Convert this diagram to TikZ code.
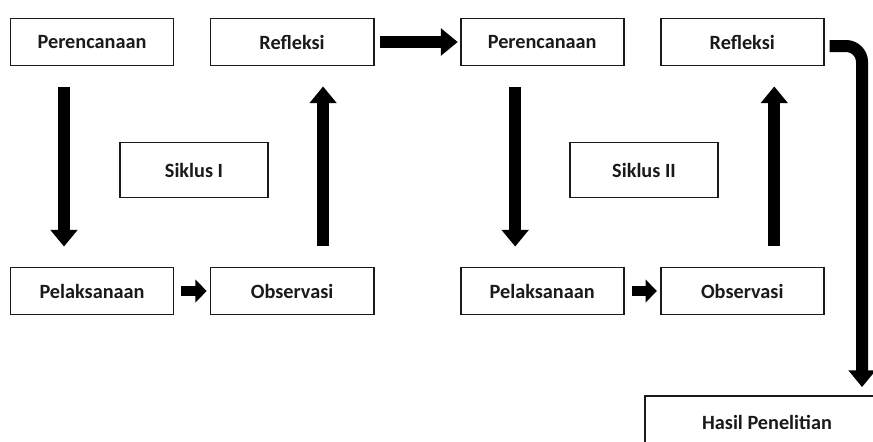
\documentclass[tikz,border=0pt]{standalone}
\usepackage{fontspec}
\setmainfont{Carlito}
\usepackage{tikz}
\usetikzlibrary{arrows.meta,positioning}
\definecolor{ink}{HTML}{1A1A1A}

\begin{document}
\begin{tikzpicture}[
    x=0.025cm, y=-0.025cm,
    box/.style={draw=ink, line width=1.3pt, fill=white,
                minimum width=4.075cm, minimum height=1.175cm, align=center,
                font=\fontsize{14.4}{17}\selectfont\bfseries, text=ink},
    bigarrow/.style={-{Triangle[length=0.42cm,width=0.66cm]}, line width=0.3cm, draw=black},
    smallarrow/.style={-{Triangle[length=0.28cm,width=0.56cm]}, line width=0.25cm, draw=black}
  ]
  \useasboundingbox (0,0) rectangle (873,441);
  \clip (0,0) rectangle (873,441);

  %%%%%%%%%%%%% Siklus I %%%%%%%%%%%%%
  \node[box] (per1) at (92,42) {Perencanaan};
  \node[box, right=0.88cm of per1] (ref1) {Refleksi};
  \node[box] (pel1) at (92,291) {Pelaksanaan};
  \node[box, right=0.88cm of pel1] (obs1) {Observasi};
  \node[box, minimum width=3.7cm, minimum height=1.375cm] (sik1) at (194,170) {Siklus I};

  %%%%%%%%%%%%% Siklus II %%%%%%%%%%%%%
  \node[box, right=2.13cm of ref1] (per2) {Perencanaan};
  \node[box, right=0.88cm of per2] (ref2) {Refleksi};
  \node[box, right=2.13cm of obs1] (pel2) {Pelaksanaan};
  \node[box, right=0.88cm of pel2] (obs2) {Observasi};
  \node[box, minimum width=3.7cm, minimum height=1.375cm] (sik2) at (644,170) {Siklus II};

  %%%%%%%%%%%%% Hasil %%%%%%%%%%%%%
  \node[box, minimum width=6.1cm, minimum height=1.3cm] (hasil) at (767,422) {Hasil Penelitian};

  %%%%%%%%%%%%% Arrows: Siklus I %%%%%%%%%%%%%
  \draw[bigarrow, shorten <=0.525cm, shorten >=0.5cm]
    ([xshift=-0.7cm]per1.south) -- ([xshift=-0.7cm]pel1.north);
  \draw[smallarrow, shorten <=0.175cm, shorten >=0.075cm] (pel1.east) -- (obs1.west);
  \draw[bigarrow, shorten <=0.525cm, shorten >=0.5cm]
    ([xshift=0.775cm]obs1.north) -- ([xshift=0.775cm]ref1.south);

  %%%%%%%%%%%%% Siklus I -> Siklus II %%%%%%%%%%%%%
  \draw[bigarrow, line width=0.28cm, shorten <=0.125cm, shorten >=0.05cm] (ref1.east) -- (per2.west);

  %%%%%%%%%%%%% Arrows: Siklus II %%%%%%%%%%%%%
  \draw[bigarrow, shorten <=0.525cm, shorten >=0.5cm]
    ([xshift=-0.675cm]per2.south) -- ([xshift=-0.675cm]pel2.north);
  \draw[smallarrow, shorten <=0.175cm, shorten >=0.075cm] (pel2.east) -- (obs2.west);
  \draw[bigarrow, shorten <=0.525cm, shorten >=0.5cm]
    ([xshift=0.8cm]obs2.north) -- ([xshift=0.8cm]ref2.south);

  %%%%%%%%%%%%% Siklus II -> Hasil %%%%%%%%%%%%%
  \draw[bigarrow, rounded corners=0.4cm, shorten <=0.125cm, shorten >=0.2cm]
    ([yshift=-0.1cm]ref2.east) -| ([xshift=2.375cm]hasil.north);

\end{tikzpicture}
\end{document}
